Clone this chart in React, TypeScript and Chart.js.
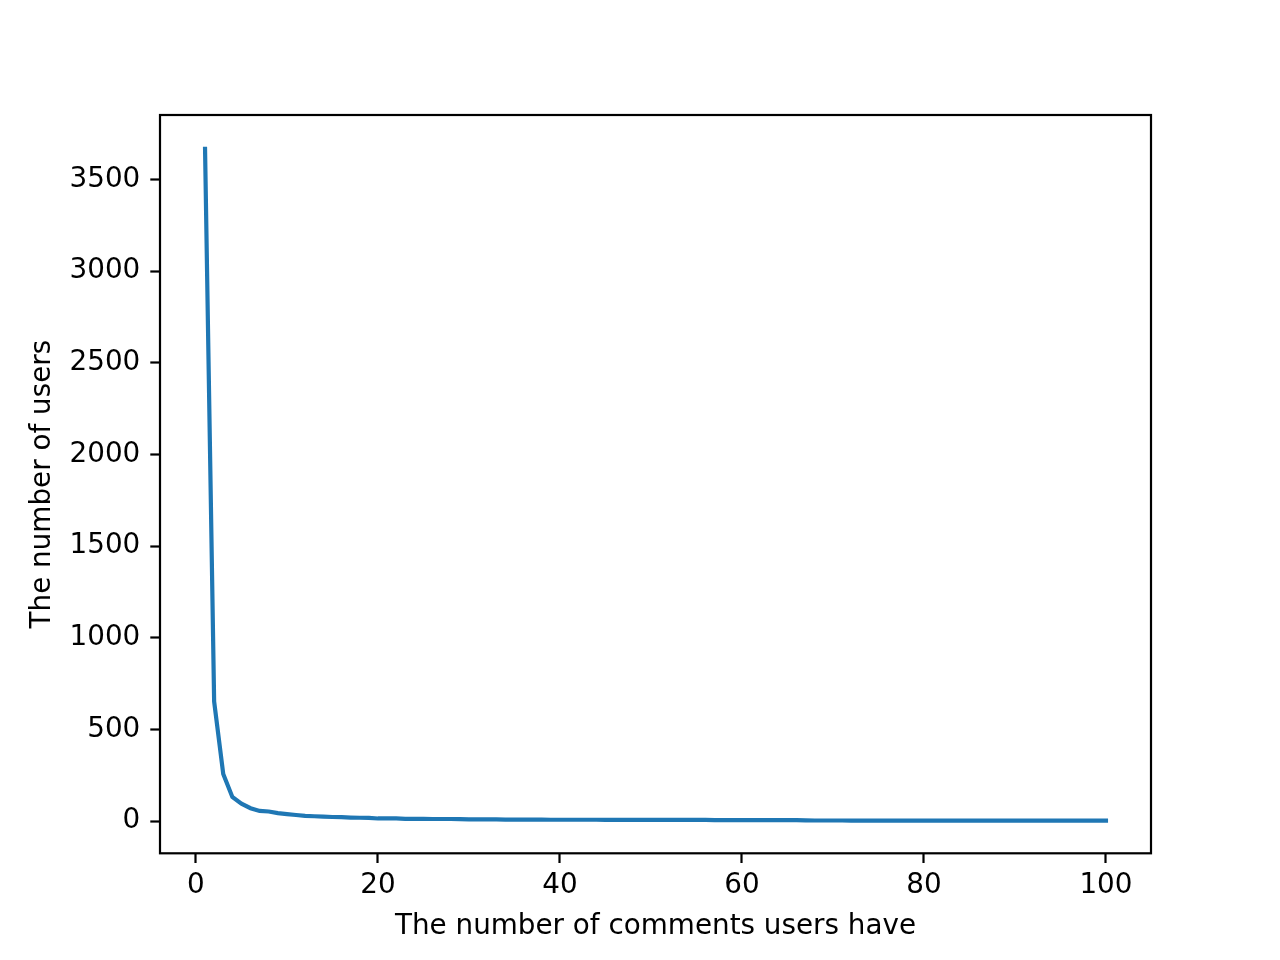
import React, { useEffect, useRef } from "react";
import { Chart, registerables } from "chart.js";

Chart.register(...registerables);

const commentCounts: number[] = [
  1, 2, 3, 4, 5, 6, 7, 8, 9, 10, 11, 12, 13, 14, 15, 16, 17, 18, 19, 20,
  21, 22, 23, 24, 25, 26, 27, 28, 29, 30, 31, 32, 33, 34, 35, 36, 37, 38, 39, 40,
  41, 42, 43, 44, 45, 46, 47, 48, 49, 50, 51, 52, 53, 54, 55, 56, 57, 58, 59, 60,
  61, 62, 63, 64, 65, 66, 67, 68, 69, 70, 71, 72, 73, 74, 75, 76, 77, 78, 79, 80,
  81, 82, 83, 84, 85, 86, 87, 88, 89, 90, 91, 92, 93, 94, 95, 96, 97, 98, 99, 100,
];

const userCounts: number[] = [
  3667, 652, 257, 131, 95, 70, 55, 52, 43, 38, 33, 28, 26, 24, 22, 21, 19, 18, 17, 14,
  14, 14, 12, 12, 12, 11, 11, 11, 10, 9, 9, 9, 9, 8, 8, 8, 8, 8, 7, 7,
  7, 7, 7, 7, 6, 6, 6, 6, 6, 6, 6, 6, 6, 6, 6, 6, 5, 5, 5, 5,
  5, 5, 5, 5, 5, 5, 4, 3, 3, 3, 3, 2, 2, 2, 2, 2, 2, 2, 2, 2,
  2, 2, 2, 2, 2, 2, 2, 2, 2, 2, 2, 2, 2, 2, 2, 2, 2, 2, 2, 2,
];

const xTicks: number[] = [0, 20, 40, 60, 80, 100];
const yTicks: number[] = [0, 500, 1000, 1500, 2000, 2500, 3000, 3500];

const xTitle = "The number of comments users have";
const yTitle = "The number of users";

const FONT = { family: "'DejaVu Sans', sans-serif", size: 27.8 };

const framePlugin = {
  id: "frame",
  afterDraw(chart: any) {
    const { ctx, chartArea } = chart;
    ctx.save();
    ctx.strokeStyle = "#000";
    ctx.lineWidth = 2.2;
    ctx.strokeRect(chartArea.left, chartArea.top, chartArea.right - chartArea.left, chartArea.bottom - chartArea.top);
    ctx.restore();
  },
};

export default function App() {
  const ref = useRef<HTMLCanvasElement | null>(null);

  useEffect(() => {
    if (!ref.current) return;
    const chart = new Chart(ref.current, {
      type: "line",
      data: {
        datasets: [
          {
            data: commentCounts.map((c, i) => ({ x: c, y: userCounts[i] })),
            borderColor: "#1f77b4",
            borderWidth: 4.2,
            borderCapStyle: "square",
            pointRadius: 0,
            fill: false,
            tension: 0,
          },
        ],
      },
      options: {
        responsive: false,
        animation: false,
        devicePixelRatio: 1,
        layout: { padding: { top: 115, right: 129, left: 0, bottom: 0 } },
        plugins: { legend: { display: false }, tooltip: { enabled: false } },
        scales: {
          x: {
            type: "linear",
            min: -3.95,
            max: 104.95,
            afterBuildTicks: (scale: any) => {
              scale.ticks = xTicks.map((v) => ({ value: v }));
            },
            afterFit: (scale: any) => {
              scale.height = 106.7;
            },
            ticks: {
              color: "#000",
              font: FONT,
              padding: 6,
              maxRotation: 0,
              callback: (v: any) => String(v),
            },
            grid: {
              display: true,
              drawOnChartArea: false,
              drawTicks: true,
              tickLength: 9.7,
              tickWidth: 2.2,
              tickColor: "#000",
            },
            border: { display: false },
            title: {
              display: true,
              text: xTitle,
              color: "#000",
              font: FONT,
              padding: { top: 0, bottom: 17 },
            },
          },
          y: {
            type: "linear",
            min: -176,
            max: 3852,
            afterBuildTicks: (scale: any) => {
              scale.ticks = yTicks.map((v) => ({ value: v }));
            },
            afterFit: (scale: any) => {
              scale.width = 160;
            },
            ticks: {
              color: "#000",
              font: FONT,
              padding: 10,
              callback: (v: any) => String(v),
            },
            grid: {
              display: true,
              drawOnChartArea: false,
              drawTicks: true,
              tickLength: 9.7,
              tickWidth: 2.2,
              tickColor: "#000",
            },
            border: { display: false },
            title: {
              display: true,
              text: yTitle,
              color: "#000",
              font: FONT,
              padding: { top: 26, bottom: 0 },
            },
          },
        },
      },
      plugins: [framePlugin],
    } as any);
    return () => chart.destroy();
  }, []);

  return (
    <div style={{ position: "absolute", left: 0, top: 0, width: 1280, height: 960, background: "#fff" }}>
      <canvas ref={ref} width={1280} height={960} style={{ width: 1280, height: 960 }} />
    </div>
  );
}
